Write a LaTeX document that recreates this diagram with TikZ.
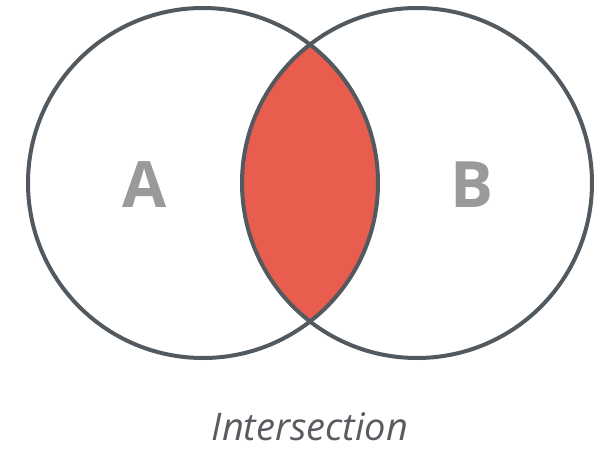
\documentclass[tikz,border=0pt]{standalone}
\usepackage{fontspec}
\setmainfont{Open Sans}
\definecolor{ringgray}{RGB}{82, 90, 96}
\definecolor{lensred}{RGB}{232, 93, 78}
\definecolor{lettergray}{RGB}{154, 154, 154}
\definecolor{captiongray}{RGB}{88, 92, 96}
\usetikzlibrary{positioning}

\begin{document}
\begin{tikzpicture}[x=1pt, y=-1pt,
  setcircle/.style={circle, draw=ringgray, line width=4pt, minimum size=350pt, inner sep=0pt},
  setlabel/.style={font=\fontsize{64}{64}\selectfont\bfseries, text=lettergray}]
  \useasboundingbox (0,0) rectangle (606,452);

  % Intersection lens
  \begin{scope}
    \clip (203,183) circle [radius=175];
    \fill[lensred] (417,183) circle [radius=175];
  \end{scope}

  % Sets
  \node[setcircle] (setA) at (203,183) {};
  \node[setcircle] (setB) at (417,183) {};

  \node[setlabel] (labA) at (145,185) {A};
  \node[setlabel] (labB) at (472,185) {B};

  % Caption
  \node[font=\fontsize{38}{38}\selectfont\itshape, text=captiongray, inner sep=0pt] (cap) at (310,427) {Intersection};
\end{tikzpicture}
\end{document}
